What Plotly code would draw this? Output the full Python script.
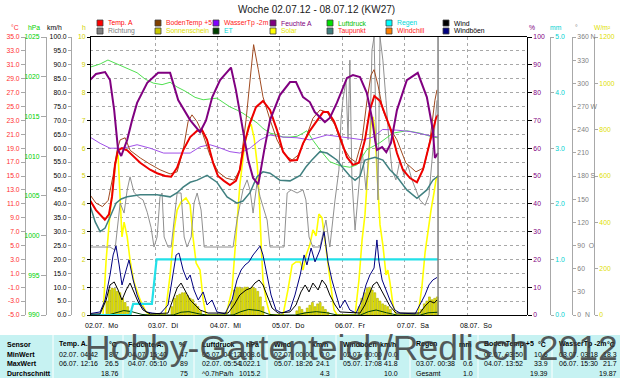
import plotly.graph_objects as go
from datetime import datetime, timedelta

FONT = "Liberation Sans, Arial, sans-serif"
T0 = datetime(2012, 7, 2)

def ts(hours):
    return [T0 + timedelta(hours=h) for h in hours]

# ---------------- data (hours since 02.07.12 00:00, value) ----------------
temp = [(-1.0, 11.5), (1.3, 10.1), (4.7, 8.7), (6.3, 9.5), (7.5, 12.1), (8.6, 16.6), (9.8, 18.7), (11.3, 19.0),
        (13.3, 18.7), (15.6, 17.9), (18.3, 16.9), (22.1, 15.9), (24.8, 15.4), (27.9, 15.0), (30.2, 14.9),
        (32.5, 16.2), (34.8, 18.7), (37.5, 20.6), (40.2, 21.5), (42.1, 21.6), (44.0, 20.2), (46.3, 16.9),
        (48.2, 15.0), (50.5, 14.3), (52.8, 13.7), (55.1, 14.3), (56.6, 15.9), (58.2, 19.5), (60.5, 22.6),
        (62.8, 24.9), (65.5, 25.8), (68.2, 24.5), (70.9, 21.6), (73.2, 18.5), (75.9, 17.2), (78.6, 17.3),
        (80.9, 19.7), (83.5, 21.5), (86.3, 22.9), (88.6, 24.2), (90.5, 24.2), (92.8, 22.9), (95.1, 20.6),
        (97.8, 17.7), (100.1, 16.6), (102.4, 16.9), (104.7, 20.2), (106.6, 24.5), (108.3, 26.5), (110.5, 25.8),
        (112.4, 23.9), (114.7, 21.6), (117.0, 18.3), (119.3, 15.9), (122.0, 14.7), (124.7, 14.1), (127.0, 15.9),
        (128.9, 18.7), (130.5, 21.2), (132.0, 23.3), (132.8, 23.8)]
windchill = list(temp)  # equals air temperature at these temperatures (drawn under Temp. A)

bodentemp = [(-1, 12.3), (1.3, 11.1), (3.8, 10.6), (6.0, 11.5), (7.9, 15.1), (9.4, 18.7), (10.6, 20.2), (12.5, 20.5),
             (14.4, 18.7), (18.3, 17.6), (22.1, 16.7), (25.9, 15.9), (29.8, 15.3), (32.5, 15.6), (34.8, 18.7),
             (36.7, 22.8), (38.2, 23.8), (40.2, 22.8), (42.5, 20.9), (45.1, 18.0), (48.2, 15.6), (51.3, 14.7),
             (54.4, 14.4), (56.6, 15.9), (59.0, 23.1), (60.5, 28.8), (61.5, 33.1), (61.9, 33.9), (63.7, 30.3),
             (65.5, 26.4), (68.2, 23.1), (70.9, 20.2), (74.0, 18.0), (76.7, 17.3), (79.0, 18.0), (81.7, 20.2),
             (84.7, 23.3), (87.4, 24.5), (90.1, 24.2), (93.2, 22.3), (95.8, 19.5), (98.9, 17.6), (101.2, 17.0),
             (103.6, 20.2), (105.5, 25.9), (107.0, 29.5), (108.2, 30.3), (109.7, 28.1), (111.6, 24.5),
             (114.3, 21.9), (117.0, 20.2), (120.4, 16.9), (124.3, 15.6), (127.4, 16.2), (129.7, 20.2),
             (131.6, 25.9), (132.4, 27.4)]

wassertemp = [(-1, 20.6), (2.9, 19.7), (6.7, 19.0), (11.7, 19.0), (17.1, 19.5), (22.1, 19.0), (27.3, 18.3),
              (29.8, 18.3), (37.5, 18.3), (41.3, 19.2), (45.1, 19.5), (47.8, 19.2), (52.8, 18.5), (56.6, 18.3),
              (60.5, 19.0), (64.4, 20.2), (68.2, 20.9), (73.2, 20.6), (78.6, 20.5), (83.5, 20.2), (90.1, 20.9),
              (96.2, 20.6), (104.0, 20.2), (107.8, 20.6), (111.5, 21.7), (117.0, 21.6), (122.0, 21.4),
              (128.5, 20.9), (132.8, 20.6)]

taupunkt = [(-1, 10.8), (1.0, 8.4), (2.9, 7.0), (4.8, 7.5), (6.7, 9.1), (9.0, 11.1), (11.0, 11.7), (13.3, 12.0),
            (18.3, 12.3), (24.8, 12.3), (29.8, 12.0), (32.5, 12.6), (34.8, 13.4), (37.5, 14.1), (40.2, 14.4),
            (44.0, 15.1), (47.8, 14.1), (51.7, 12.0), (55.5, 11.1), (57.8, 11.4), (60.5, 12.6), (63.2, 14.9),
            (65.5, 15.6), (68.2, 15.4), (72.0, 14.4), (75.9, 14.3), (79.8, 15.1), (82.0, 16.3), (84.3, 17.3),
            (87.4, 18.5), (90.1, 18.3), (93.9, 17.3), (96.2, 16.2), (98.9, 15.0), (100.9, 14.4), (102.8, 15.0),
            (104.7, 17.3), (108.6, 17.7), (111.6, 17.3), (114.3, 15.9), (117.0, 14.9), (120.8, 13.0),
            (124.7, 11.8), (128.5, 13.0), (130.8, 14.4), (132.8, 15.0)]

feuchte = [(-1, 84.5), (1.3, 86.7), (4.8, 87.4), (6.7, 84.5), (8.3, 73.7), (9.8, 59.4), (11.0, 57.2), (13.3, 63.0),
           (15.2, 70.1), (17.1, 76.3), (21.0, 83.5), (25.2, 87.1), (29.8, 87.1), (32.9, 77.3), (37.5, 70.1),
           (41.3, 65.8), (43.6, 70.0), (46.0, 78.4), (49.0, 84.5), (53.2, 89.0), (55.1, 80.9), (57.5, 68.3),
           (59.8, 55.8), (61.7, 49.3), (63.7, 47.0), (66.0, 59.4), (68.2, 70.1), (72.0, 79.1), (75.9, 83.8),
           (78.2, 83.8), (80.9, 78.4), (83.5, 76.6), (85.4, 73.0), (89.3, 69.4), (91.2, 70.9), (93.9, 76.3),
           (97.8, 85.3), (100.1, 86.3), (102.8, 85.6), (105.4, 79.9), (107.4, 70.9), (108.6, 62.9), (109.3, 59.4),
           (111.3, 60.4), (112.9, 58.6), (114.7, 61.9), (117.0, 73.7), (120.8, 84.5), (125.0, 87.1),
           (128.5, 78.4), (130.8, 66.5), (131.6, 56.5), (132.8, 58.3)]

luftdruck = [(-1, 1021.2), (2.9, 1021.6), (5.9, 1022.1), (8.6, 1021.7), (10.6, 1021.5), (13.6, 1021.0),
             (17.1, 1020.5), (20.2, 1019.7), (23.3, 1019.2), (26.7, 1019.0), (29.8, 1019.3), (32.5, 1018.7),
             (35.5, 1018.2), (39.4, 1017.4), (42.5, 1017.1), (45.1, 1017.2), (47.8, 1017.3), (50.5, 1016.7),
             (52.8, 1016.2), (55.5, 1015.8), (57.8, 1015.4), (60.5, 1014.8), (63.2, 1014.2), (65.5, 1013.5),
             (68.2, 1012.9), (70.9, 1012.7), (73.2, 1012.4), (75.9, 1012.4), (78.6, 1012.5), (80.9, 1012.9),
             (82.4, 1013.2), (84.7, 1012.0), (87.4, 1010.8), (91.2, 1009.3), (95.1, 1008.8), (98.9, 1008.6),
             (101.6, 1008.9), (105.4, 1010.8), (110.5, 1011.7), (115.5, 1012.9), (120.8, 1013.2),
             (125.8, 1012.9), (130.8, 1012.4), (132.8, 1012.3)]

regen = [(-1, 0.0), (14.4, 0.0), (15.6, 0.2), (22.8, 0.2), (24.6, 1.0), (132.8, 1.0)]

et = [(-1, 0), (6, 0), (9, 0.04), (12, 0.08), (15, 0.06), (19, 0.01), (22, 0), (31, 0), (34, 0.05), (37, 0.06),
      (41, 0.02), (44, 0), (54, 0), (57, 0.06), (60, 0.1), (64, 0.08), (68, 0.01), (71, 0), (78, 0), (82, 0.04),
      (86, 0.06), (90, 0.04), (94, 0), (103, 0), (106, 0.06), (109, 0.09), (113, 0.04), (117, 0), (126, 0),
      (129, 0.04), (132.8, 0.05)]

solar = [(-1, 0), (4.0, 0), (5.2, 237), (6.7, 440), (7.9, 561), (9.0, 669), (9.8, 691), (10.6, 496), (11.3, 337),
         (12.1, 401), (13.3, 337), (14.4, 237), (15.9, 142), (18.3, 65), (20.6, 13), (22.1, 0), (27.9, 0),
         (29.8, 173), (31.3, 367), (32.5, 453), (34.0, 488), (35.9, 505), (37.5, 475), (38.6, 337), (39.8, 224),
         (41.3, 194), (42.5, 65), (43.6, 0), (51.3, 0), (53.6, 108), (55.1, 324), (56.6, 561), (58.2, 712),
         (59.8, 812), (61.0, 820), (62.1, 764), (63.3, 648), (64.1, 496), (64.9, 281), (65.5, 151), (66.7, 65),
         (68.2, 0), (73.2, 0), (75.1, 108), (76.7, 216), (78.2, 229), (79.8, 229), (80.9, 194), (82.1, 259),
         (83.5, 302), (84.7, 367), (85.9, 341), (87.0, 436), (88.2, 419), (89.3, 324), (90.5, 216), (91.7, 108),
         (92.8, 22), (94.0, 0), (100.9, 0), (102.4, 151), (103.6, 324), (104.7, 432), (105.9, 626), (107.0, 820),
         (107.8, 855), (108.6, 799), (109.3, 626), (110.5, 389), (111.6, 302), (112.8, 173), (113.5, 194),
         (114.3, 142), (115.5, 43), (116.6, 0), (125.1, 0), (126.6, 121), (127.8, 268), (128.9, 367),
         (130.1, 453), (131.3, 531), (132.0, 583), (132.8, 604)]

sonnenschein = [(5, 0.5), (6, 0.9), (7, 0.97), (8, 0.95), (9, 0.85), (10, 0.8), (11, 0.6), (12, 0.45), (13, 0.3),
                (14, 0.15), (30, 0.3), (31, 0.6), (32, 0.7), (33, 0.75), (34, 0.8), (35, 0.8), (36, 0.7), (37, 0.6),
                (38, 0.55), (39, 0.4), (40, 0.3), (41, 0.15), (53, 0.5), (54, 0.9), (55, 1.0), (56, 1.0),
                (57, 0.95), (58, 1.0), (59, 1.0), (60, 0.95), (61, 1.0), (62, 0.95), (63, 0.85), (64, 0.65),
                (65, 0.3), (78, 0.15), (79, 0.3), (80, 0.2), (81, 0.1), (82, 0.25), (83, 0.35), (84, 0.45),
                (85, 0.3), (86, 0.4), (87, 0.45), (88, 0.3), (89, 0.2), (90, 0.1), (102, 0.3), (103, 0.6),
                (104, 0.8), (105, 0.95), (106, 1.0), (107, 0.9), (108, 0.8), (109, 0.6), (110, 0.5), (111, 0.4),
                (112, 0.35), (113, 0.3), (114, 0.2), (126, 0.2), (127, 0.4), (128, 0.5), (129, 0.65), (130, 0.55),
                (131, 0.6), (132, 0.65)]

wind = [(-1, 0.3), (2.9, 0.4), (5.2, 5.4), (6.7, 10.8), (8.3, 11.9), (9.8, 9.0), (11.3, 5.4), (12.9, 9.0),
        (14.4, 11.5), (15.9, 8.3), (17.5, 4.7), (19.4, 1.8), (22.1, 0.4), (29.0, 0.7), (30.9, 5.4), (32.5, 9.7),
        (34.0, 11.5), (35.5, 9.0), (37.5, 5.4), (39.4, 3.6), (41.3, 1.8), (44.4, 0.7), (52.1, 0.7), (54.4, 3.6),
        (56.6, 7.2), (59.0, 9.0), (60.9, 9.7), (62.4, 11.5), (64.0, 12.6), (65.5, 10.8), (67.1, 7.2), (69.0, 2.5),
        (71.3, 0.7), (75.9, 1.1), (78.2, 3.6), (80.1, 8.3), (81.7, 10.8), (83.2, 8.3), (84.7, 11.5), (86.7, 9.0),
        (88.2, 12.6), (89.7, 10.8), (91.2, 7.2), (93.2, 3.6), (95.1, 1.1), (102.8, 0.7), (104.7, 3.6),
        (106.3, 7.2), (107.8, 10.8), (109.3, 11.9), (110.9, 9.0), (112.4, 6.1), (114.3, 3.2), (116.6, 0.7),
        (125.8, 0.7), (127.8, 3.2), (129.7, 5.0), (131.3, 4.3), (132.4, 5.4)]

windboeen = [(-1, 0.5), (2.9, 1.1), (4.8, 5.4), (6.7, 14.4), (7.9, 21.6), (9.0, 24.8), (10.2, 18.0), (11.3, 10.8),
             (12.9, 16.2), (14.0, 19.8), (15.6, 12.6), (17.1, 7.2), (18.6, 3.6), (20.6, 1.1), (22.9, 0.7),
             (25.9, 0.4), (29.0, 3.6), (30.6, 12.6), (32.1, 21.6), (33.2, 22.3), (34.8, 16.2), (36.3, 12.6),
             (37.5, 14.4), (39.0, 9.0), (40.6, 5.4), (42.5, 8.3), (44.0, 3.6), (45.9, 5.4), (47.8, 1.1),
             (50.9, 0.4), (53.6, 5.4), (55.5, 12.6), (57.1, 16.2), (58.6, 18.0), (60.1, 19.1), (61.7, 21.6),
             (63.2, 23.4), (64.4, 24.8), (65.5, 21.6), (67.1, 14.4), (68.6, 7.2), (70.5, 1.8), (72.8, 0.7),
             (75.9, 1.8), (77.8, 7.2), (79.8, 14.4), (81.3, 21.6), (82.4, 18.0), (84.0, 24.1), (85.5, 19.1),
             (87.4, 23.4), (89.0, 30.0), (90.5, 19.1), (92.0, 12.6), (93.6, 7.2), (95.1, 2.5), (97.0, 5.4),
             (98.9, 1.8), (101.3, 0.7), (103.6, 5.4), (105.1, 10.8), (106.6, 14.4), (108.2, 16.9), (109.3, 27.0),
             (110.1, 19.1), (111.3, 12.6), (112.8, 9.0), (114.3, 5.4), (116.2, 1.8), (118.2, 0.7), (124.0, 0.4),
             (125.8, 3.6), (127.8, 7.2), (129.3, 10.8), (130.8, 12.6), (132.4, 13.5)]

richtung = [(-1, 88), (6.7, 88), (8.6, 84), (10.6, 145), (12.1, 132), (13.3, 162), (14.4, 179), (15.9, 159),
            (17.5, 153), (19.4, 149), (21.0, 133), (22.5, 113), (23.6, 88), (24.8, 101), (25.9, 153), (26.7, 158),
            (27.5, 101), (29.0, 88), (30.2, 88), (31.3, 123), (32.5, 158), (34.0, 158), (35.2, 101), (36.3, 88),
            (37.9, 101), (39.0, 145), (40.2, 158), (41.7, 136), (42.9, 88), (54.0, 88), (55.5, 123), (57.8, 162),
            (59.4, 175), (60.5, 162), (61.7, 132), (63.2, 171), (64.4, 153), (65.9, 136), (67.1, 123), (68.2, 88),
            (73.6, 88), (74.8, 158), (76.3, 162), (78.6, 158), (80.9, 162), (82.0, 149), (83.2, 101), (84.7, 88),
            (87.4, 88), (89.7, 123), (91.2, 88), (93.2, 149), (94.7, 188), (95.5, 253), (96.2, 278), (97.4, 304),
            (98.2, 227), (98.9, 330), (99.7, 175), (100.9, 110), (102.0, 149), (103.6, 214), (105.1, 162),
            (106.6, 227), (107.4, 343), (108.2, 360), (108.9, 253), (109.7, 149), (110.5, 360), (111.6, 330),
            (112.8, 278), (113.9, 227), (115.1, 188), (116.6, 175), (118.2, 201), (119.7, 181), (121.2, 194),
            (122.8, 175), (124.3, 162), (125.8, 149), (127.8, 142), (129.3, 155), (130.5, 201), (131.6, 253),
            (132.4, 278)]

data_end_h = 132.8
day_labels = ["02.07.  Mo", "03.07.  Di", "04.07.  Mi", "05.07.  Do", "06.07.  Fr", "07.07.  Sa", "08.07.  So"]

temp_ticks = list(range(-5, 36, 2))
hpa_ticks = list(range(990, 1026, 5))
kmh_ticks = list(range(0, 101, 5))
h_ticks = list(range(0, 11))
pct_ticks = list(range(0, 101, 10))
mm_ticks = [0, 1, 2, 3, 4, 5]
deg_ticks = list(range(0, 361, 30))
deg_text = ["0  N", "30", "60", "90  O", "120", "150", "180 S", "210", "240", "270 W", "300", "330", "360 N"]
wm2_ticks = list(range(0, 1201, 200))

legend_rows = [
    [("Temp. A", "#ff0000", "#ff0000"), ("BodenTemp +5", "#804000", "#ff2020"), ("WasserTp -2m", "#8000ff", "#ff2020"),
     ("Feuchte A", "#800080", "#800080"), ("Luftdruck", "#00e000", "#00c000"), ("Regen", "#00ffff", "#00d8d8"),
     ("Wind", "#000000", "#000000")],
    [("Richtung", "#808080", "#808080"), ("Sonnenschein", "#c8c800", "#e0e000"), ("ET", "#004000", "#00d8d8"),
     ("Solar", "#ffff00", "#e8e800"), ("Taupunkt", "#408080", "#ff2020"), ("Windchill", "#ff8000", "#ff2020"),
     ("Windböen", "#000080", "#000000")],
]

table_headers = [("Temp. A.", "°C"), ("Feuchte A.", "%"), ("Luftdruck", "hPa"), ("Wind", "km/h"),
                 ("Windböen", "km/h"), ("Regen", "mm"), ("BodenTemp +5", "°C"), ("WasserTp -2m", "°C")]
row_names = ["Sensor", "MinWert", "MaxWert", "Durchschnitt"]
min_row = ["02.07. 04:42", "8.7", "04.07. 15:40", "47", "05.07. 04:12", "1008.6", "02.07. 00:00", "0.0",
           "02.07. 00:00", "0.0", "", "", "02.07. 03:50", "10.6", "03.07. 03:18", "18.3"]
max_row = ["06.07. 12:16", "26.5", "04.07. 05:10", "89", "02.07. 05:54", "1022.1", "05.07. 18:26", "24.1",
           "05.07. 17:08", "41.8", "03.07. 00:38", "0.6", "04.07. 13:52", "33.9", "06.07. 15:30", "21.7"]
avg_row = ["", "18.76", "", "75", "^0.7hPa/h", "1015.2", "", "4.3", "", "10.0", "Gesamt", "1.0", "", "19.39",
           "", "19.87"]

title_text = "Woche 02.07.12 - 08.07.12 (KW27)"
watermark = "Hobby-Gartenteich/Redlisch 2012"

# ---------------- geometry helpers (pixels -> paper) ----------------
W, H = 620, 378
PT, PB = 37, 315


def px(x):
    return x / W


def py(y):
    return (PB - y) / (PB - PT)


fig = go.Figure()


def line(series, axis, color, width, name):
    hrs, vals = zip(*series)
    fig.add_trace(go.Scatter(x=ts(hrs), y=list(vals), yaxis=axis, mode="lines", name=name,
                             line=dict(color=color, width=width), showlegend=False, hoverinfo="skip"))


# Sunshine bars (h axis, base y)
sh, sv = zip(*sonnenschein)
fig.add_trace(go.Bar(x=ts([h + 0.5 for h in sh]), y=list(sv), yaxis="y", width=0.72 * 3600 * 1000,
                     marker=dict(color="#e8e800", line=dict(color="#a8a800", width=0.6)),
                     showlegend=False, hoverinfo="skip"))
line(solar, "y2", "#ffff00", 1.6, "Solar")
line(richtung, "y3", "#909090", 1, "Richtung")
line(et, "y4", "#004000", 1, "ET")
line(regen, "y4", "#22e0e8", 2.2, "Regen")
line(windboeen, "y5", "#000080", 1, "Windböen")
line(wind, "y5", "#000000", 1, "Wind")
line(luftdruck, "y6", "#50e050", 1, "Luftdruck")
line(wassertemp, "y7", "#a050e8", 1, "WasserTp")
line(taupunkt, "y7", "#408080", 1.5, "Taupunkt")
line(bodentemp, "y7", "#a04a20", 1, "BodenTemp")
line(windchill, "y7", "#ff8000", 1, "Windchill")
line(temp, "y7", "#ee0000", 2, "Temp")
line(feuchte, "y8", "#800080", 2, "Feuchte")


def yax(rng, tv, tt, color, xpix, side, lcol, tlen, overlay=True, grid=False):
    d = dict(range=rng, tickmode="array", tickvals=tv, ticktext=tt,
             tickfont=dict(family=FONT, size=6.8, color=color),
             anchor="free", position=px(xpix), side=side, showline=True, linecolor=lcol, linewidth=1,
             ticks="outside", ticklen=tlen, tickcolor=lcol, showgrid=grid, zeroline=False, fixedrange=True)
    if grid:
        d.update(gridcolor="#a8a8a8", griddash="dot", gridwidth=1)
    if overlay:
        d["overlaying"] = "y"
    return d


GRAY = "#a8a8a8"
fig.update_layout(
    width=W, height=H, autosize=False,
    margin=dict(l=0, r=0, t=PT, b=H - PB),
    paper_bgcolor="white", plot_bgcolor="white",
    font=dict(family=FONT, size=7),
    bargap=0,
    xaxis=dict(domain=[px(90), px(527)], type="date",
               range=[T0 - timedelta(hours=1), T0 + timedelta(hours=167)],
               tickmode="array", tickvals=ts([24 * d for d in range(1, 7)]), showticklabels=False, ticks="",
               showgrid=True, gridcolor=GRAY, griddash="dot", gridwidth=1,
               showline=True, linecolor="black", linewidth=1, mirror=True, zeroline=False, anchor="y",
               fixedrange=True),
    yaxis=yax([0, 10], h_ticks, [str(v) for v in h_ticks], "#d0d000", 90, "left", "black", 3, overlay=False),
    yaxis2=yax([0, 1200], wm2_ticks, [str(v) for v in wm2_ticks], "#e0e000", 594, "right", GRAY, 3),
    yaxis3=yax([0, 360], deg_ticks, deg_text, "#808080", 572, "right", GRAY, 3),
    yaxis4=yax([0, 5], mm_ticks, [f"{v:.1f}" for v in mm_ticks], "#00d0d0", 550, "right", GRAY, 3),
    yaxis5=yax([0, 100], kmh_ticks, [f"{v:.1f}" for v in kmh_ticks], "#000000", 71, "left", GRAY, 3),
    yaxis6=yax([990, 1025], hpa_ticks, [str(v) for v in hpa_ticks], "#00d000", 46, "left", GRAY, 5),
    yaxis7=yax([-5, 35], temp_ticks, [f"{v:.1f}" for v in temp_ticks], "#ff3030", 25, "left", GRAY, 4, grid=True),
    yaxis8=yax([0, 100], pct_ticks, [str(v) for v in pct_ticks], "#800080", 527, "right", "black", 4),
)

shapes = []
ann = []

# "now" line
shapes.append(dict(type="line", xref="x", yref="paper", x0=T0 + timedelta(hours=data_end_h),
                   x1=T0 + timedelta(hours=data_end_h), y0=0, y1=1, line=dict(color="#808080", width=1.5)))

# title
ann.append(dict(text=title_text, xref="paper", yref="paper", x=px(316), y=py(10), showarrow=False,
                xanchor="center", yanchor="middle", font=dict(family=FONT, size=10, color="#202020")))

# axis titles
for txt, x, col in [("°C", 15, "#ff3030"), ("hPa", 34, "#00d000"), ("km/h", 54, "#000000"), ("h", 84, "#d0d000"),
                    ("%", 532, "#800080"), ("mm", 556, "#00d0d0"), ("°", 576, "#808080"), ("W/m²", 602, "#e0e000")]:
    ann.append(dict(text=txt, xref="paper", yref="paper", x=px(x), y=py(27), showarrow=False,
                    xanchor="center", yanchor="middle", font=dict(family=FONT, size=6.8, color=col)))

# legend
col_x = [97, 155, 213, 270, 327, 386, 443]
row_y = [23, 31]
for r, items in enumerate(legend_rows):
    for c, (lab, box, tcol) in enumerate(items):
        x0 = col_x[c]
        yc = row_y[r]
        shapes.append(dict(type="rect", xref="paper", yref="paper", x0=px(x0), x1=px(x0 + 6),
                           y0=py(yc + 3), y1=py(yc - 3), fillcolor=box, line=dict(color="#404040", width=0.8)))
        ann.append(dict(text=lab, xref="paper", yref="paper", x=px(x0 + 9), y=py(yc), showarrow=False,
                        xanchor="left", yanchor="middle", font=dict(family=FONT, size=6.8, color=tcol)))

# day labels under the x axis
for d, lab in enumerate(day_labels):
    ann.append(dict(text=lab, xref="x", yref="paper", x=T0 + timedelta(days=d), y=py(325), showarrow=False,
                    xanchor="left", yanchor="middle", xshift=-9.5,
                    font=dict(family=FONT, size=7, color="#000000")))

# table
shapes.append(dict(type="rect", xref="paper", yref="paper", x0=0, x1=1, y0=py(378), y1=py(335),
                   fillcolor="#c6f2f2", line=dict(width=0), layer="below"))
for sx in [53, 123, 194, 267, 336, 410, 478, 552]:
    shapes.append(dict(type="line", xref="paper", yref="paper", x0=px(sx), x1=px(sx), y0=py(378), y1=py(335),
                       line=dict(color="#ffffff", width=1)))
rows_y = [344, 354, 363.5, 373]
cols = [(57, 121), (126, 190), (200, 263), (272, 332), (341, 400), (414, 475), (482, 550), (557, 619)]
for i, nm in enumerate(row_names):
    ann.append(dict(text=f"<b>{nm}</b>", xref="paper", yref="paper", x=px(5), y=py(rows_y[i]), showarrow=False,
                    xanchor="left", yanchor="middle", font=dict(family=FONT, size=7, color="#000000")))
for j, (hd, unit) in enumerate(table_headers):
    lx, rx = cols[j]
    ann.append(dict(text=f"<b>{hd}</b>", xref="paper", yref="paper", x=px(lx), y=py(rows_y[0]), showarrow=False,
                    xanchor="left", yanchor="middle", font=dict(family=FONT, size=7, color="#000000")))
    ann.append(dict(text=f"<b>{unit}</b>", xref="paper", yref="paper", x=px(rx - 2), y=py(rows_y[0]),
                    showarrow=False, xanchor="right", yanchor="middle",
                    font=dict(family=FONT, size=7, color="#000000")))
    for k, row in enumerate([min_row, max_row, avg_row]):
        left, right = row[2 * j], row[2 * j + 1]
        if left:
            ann.append(dict(text=left, xref="paper", yref="paper", x=px(lx), y=py(rows_y[k + 1]),
                            showarrow=False, xanchor="left", yanchor="middle",
                            font=dict(family=FONT, size=7, color="#000000")))
        if right:
            ann.append(dict(text=right, xref="paper", yref="paper", x=px(rx), y=py(rows_y[k + 1]),
                            showarrow=False, xanchor="right", yanchor="middle",
                            font=dict(family=FONT, size=7, color="#000000")))

# watermark
ann.append(dict(text=watermark, xref="paper", yref="paper", x=px(83), y=py(348), showarrow=False,
                xanchor="left", yanchor="middle", font=dict(family=FONT, size=35.5, color="rgba(60,60,60,0.85)")))

fig.update_layout(shapes=shapes, annotations=ann)
fig.write_html("out.html", config={"displayModeBar": False, "staticPlot": True},
               post_script="document.body.style.margin='0px';document.body.style.padding='0px';"
                           "document.documentElement.style.overflow='hidden';")
